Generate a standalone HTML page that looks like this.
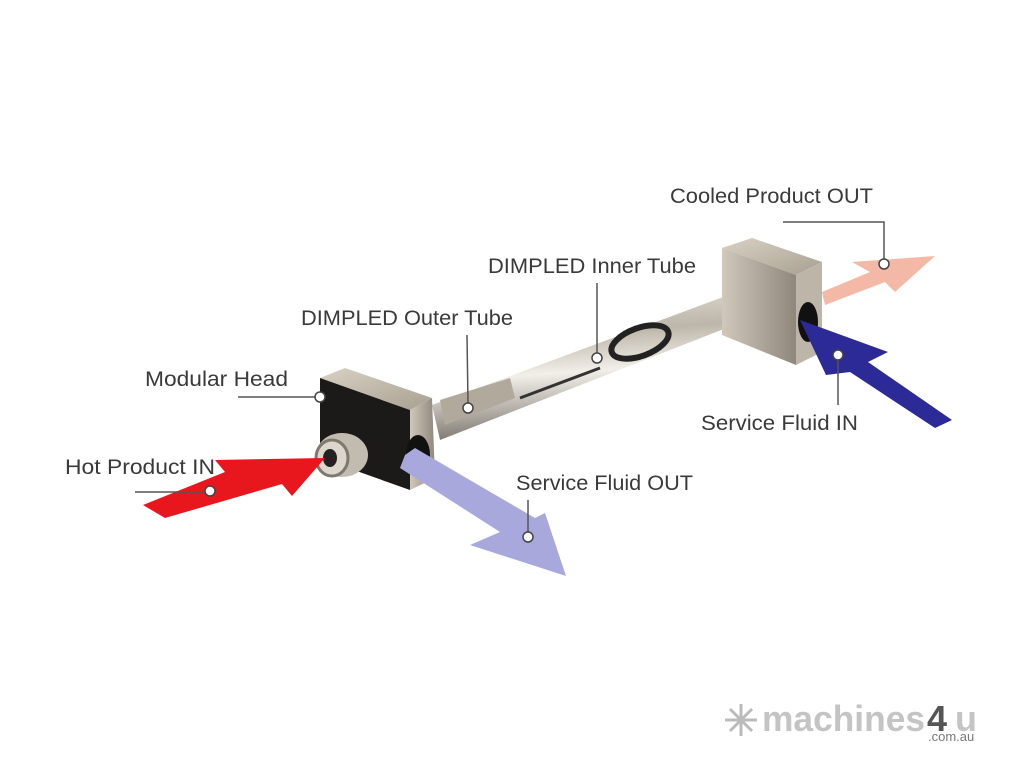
<!DOCTYPE html>
<html><head><meta charset="utf-8"><style>
html,body{margin:0;padding:0;background:#fff;}
svg{display:block;}
text{font-family:"Liberation Sans",sans-serif;}
</style></head><body>
<svg width="1024" height="768" viewBox="0 0 1024 768" xmlns="http://www.w3.org/2000/svg">
<defs>
<linearGradient id="tube" x1="0" y1="0" x2="0.15" y2="1">
<stop offset="0" stop-color="#e8e4dc"/><stop offset="0.35" stop-color="#bdb6aa"/><stop offset="0.6" stop-color="#f2efe9"/><stop offset="1" stop-color="#7d776e"/>
</linearGradient>
<linearGradient id="top" x1="0" y1="0" x2="1" y2="1">
<stop offset="0" stop-color="#d9d2c4"/><stop offset="1" stop-color="#a89f90"/>
</linearGradient>
<linearGradient id="side" x1="0" y1="0" x2="1" y2="0">
<stop offset="0" stop-color="#cfc8bb"/><stop offset="1" stop-color="#8f877b"/>
</linearGradient>
</defs>
<rect width="1024" height="768" fill="#fff"/>

<!-- tube -->
<polygon points="432,405 742,290 752,318 440,440" fill="url(#tube)"/>
<polygon points="440,400 510,378 515,398 445,425" fill="#b0a99c"/>
<ellipse cx="640" cy="342" rx="30" ry="14" fill="none" stroke="#222" stroke-width="6" transform="rotate(-20 640 342)"/>
<line x1="520" y1="398" x2="600" y2="368" stroke="#333" stroke-width="3"/>
<ellipse cx="748" cy="303" rx="10" ry="18" fill="#d5cfc4" stroke="#8a8378"/>

<!-- left head -->
<polygon points="320,378 345,368 432,398 410,410" fill="url(#top)"/>
<polygon points="320,378 410,410 410,490 320,458" fill="#1c1a18"/>
<polygon points="410,410 432,398 435,478 410,490" fill="url(#side)"/>
<ellipse cx="418" cy="455" rx="12" ry="20" fill="#111"/>
<ellipse cx="342" cy="455" rx="26" ry="22" fill="#c2bbaf"/>
<ellipse cx="332" cy="458" rx="16" ry="18" fill="#dcd6cc" stroke="#7f786e" stroke-width="3"/>
<ellipse cx="330" cy="458" rx="7" ry="9" fill="#222"/>

<!-- right head -->
<polygon points="722,248 752,238 822,262 796,275" fill="url(#top)"/>
<polygon points="722,248 796,275 796,365 722,335" fill="url(#side)"/>
<polygon points="796,275 822,262 822,352 796,365" fill="#bdb5a8"/>
<ellipse cx="808" cy="322" rx="10" ry="20" fill="#111"/>

<!-- arrows -->
<polygon points="143,505 225,472 215,460 325,458 292,496 282,484 165,518" fill="#e8161d"/>
<polygon points="405,455 415,448 535,518 545,513 566,576 470,545 500,532 400,468" fill="#a9a8dc"/>
<polygon points="800,320 888,352 868,362 952,420 935,428 850,372 826,375" fill="#2b2a96"/>
<polygon points="822,292 870,272 852,262 935,256 895,292 885,282 825,305" fill="#f4b8a6"/>

<!-- leaders -->
<g stroke="#555" stroke-width="1.5" fill="none">
<polyline points="783,222 884,222 884,260"/>
<line x1="597" y1="283" x2="597" y2="354"/>
<line x1="467" y1="335" x2="468" y2="404"/>
<line x1="238" y1="397" x2="316" y2="397"/>
<line x1="135" y1="492" x2="205" y2="492"/>
<line x1="528" y1="500" x2="528" y2="532"/>
<line x1="838" y1="405" x2="838" y2="360"/>
</g>
<g fill="#fff" stroke="#444" stroke-width="1.5">
<circle cx="884" cy="264" r="5"/><circle cx="597" cy="358" r="5"/><circle cx="468" cy="408" r="5"/>
<circle cx="320" cy="397" r="5"/><circle cx="210" cy="491" r="5"/><circle cx="528" cy="537" r="5"/>
<circle cx="838" cy="355" r="5"/>
</g>

<!-- labels -->
<g font-size="21" fill="#3a3a3a" lengthAdjust="spacingAndGlyphs">
<text x="670" y="203" textLength="203" lengthAdjust="spacingAndGlyphs">Cooled Product OUT</text>
<text x="488" y="273" textLength="208" lengthAdjust="spacingAndGlyphs">DIMPLED Inner Tube</text>
<text x="301" y="325" textLength="212" lengthAdjust="spacingAndGlyphs">DIMPLED Outer Tube</text>
<text x="145" y="386" textLength="143" lengthAdjust="spacingAndGlyphs">Modular Head</text>
<text x="65" y="474" textLength="150" lengthAdjust="spacingAndGlyphs">Hot Product IN</text>
<text x="516" y="490" textLength="177" lengthAdjust="spacingAndGlyphs">Service Fluid OUT</text>
<text x="701" y="430" textLength="157" lengthAdjust="spacingAndGlyphs">Service Fluid IN</text>
</g>

<!-- watermark -->
<g stroke="#bbb" stroke-width="3">
<line x1="741" y1="704" x2="741" y2="736"/><line x1="725" y1="720" x2="757" y2="720"/>
<line x1="730" y1="709" x2="752" y2="731"/><line x1="752" y1="709" x2="730" y2="731"/>
</g>
<text x="762" y="731" font-size="36" font-weight="bold" fill="#c4c4c4" textLength="163" lengthAdjust="spacingAndGlyphs">machines</text>
<text x="927" y="731" font-size="36" font-weight="bold" fill="#555">4</text>
<text x="955" y="731" font-size="36" font-weight="bold" fill="#c4c4c4">u</text>
<text x="928" y="741" font-size="13" fill="#777">.com.au</text>
</svg>
</body></html>
